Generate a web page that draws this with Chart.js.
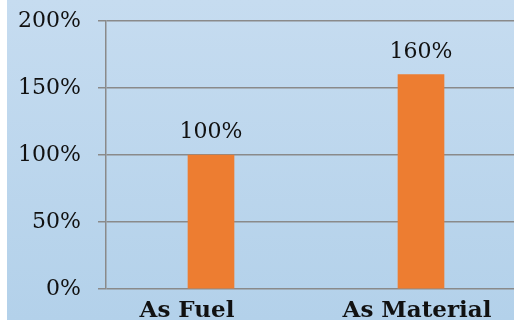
<!DOCTYPE html>
<html>
<head>
<meta charset="utf-8">
<script src="https://cdn.jsdelivr.net/npm/chart.js@4"></script>
<style>
  html, body { margin: 0; padding: 0; background: #fff; overflow: hidden; }
  #wrap {
    position: absolute; left: 7px; top: 0;
    width: 519px; height: 320px;
    background: linear-gradient(to bottom, #c6dcf0, #b3d1ea);
  }
</style>
</head>
<body>
<div id="wrap"><canvas id="shareChart" width="519" height="320"></canvas></div>
<script>
// kategori dan nilai (persen)
const categories = ['As Fuel      ', 'As Material '];
const shareValues = [100, 160];
const yTicks = [0, 50, 100, 150, 200];

const serifFont = "'DejaVu Serif', 'Liberation Serif', serif";
const gridGray = '#8a8a8a';

// label nilai di atas batang
const valueLabels = {
  id: 'valueLabels',
  afterDatasetsDraw(chart) {
    const c = chart.ctx;
    const meta = chart.getDatasetMeta(0);
    c.save();
    c.font = '22px ' + serifFont;
    c.fillStyle = '#111';
    c.textAlign = 'center';
    c.textBaseline = 'alphabetic';
    meta.data.forEach((bar, i) => {
      c.fillText(shareValues[i] + '%', bar.x, bar.y - 17);
    });
    c.restore();
  }
};

let ctx = document.getElementById('shareChart').getContext('2d');
let shareChart = new Chart(ctx, {
  type: 'bar',
  data: {
    labels: categories,
    datasets: [{
      data: shareValues,
      backgroundColor: '#ed7d31',
      borderWidth: 0,
      barThickness: 46
    }]
  },
  options: {
    responsive: false,
    animation: false,
    devicePixelRatio: 1,
    layout: { padding: { top: 21, right: 0, left: 0, bottom: 0 } },
    plugins: { legend: { display: false }, tooltip: { enabled: false } },
    scales: {
      x: {
        grid: { display: false },
        border: { display: false },
        ticks: {
          color: '#111',
          padding: 0,
          maxRotation: 0,
          autoSkip: false,
          font: { family: serifFont, size: 23, weight: 'bold' }
        },
        afterFit(scale) { scale.height = 31; scale.paddingLeft = 0; scale.paddingRight = 0; }
      },
      y: {
        min: 0,
        max: 200,
        afterBuildTicks(scale) { scale.ticks = yTicks.map(v => ({ value: v })); },
        grid: { color: gridGray, lineWidth: 1.5, tickLength: 8 },
        border: { color: gridGray, width: 1.5 },
        ticks: {
          color: '#111',
          padding: 17,
          autoSkip: false,
          font: { family: serifFont, size: 22 },
          callback: v => v + '%'
        },
        afterFit(scale) { scale.width = 99; scale.paddingTop = 0; scale.paddingBottom = 0; }
      }
    }
  },
  plugins: [valueLabels]
});
</script>
</body>
</html>
